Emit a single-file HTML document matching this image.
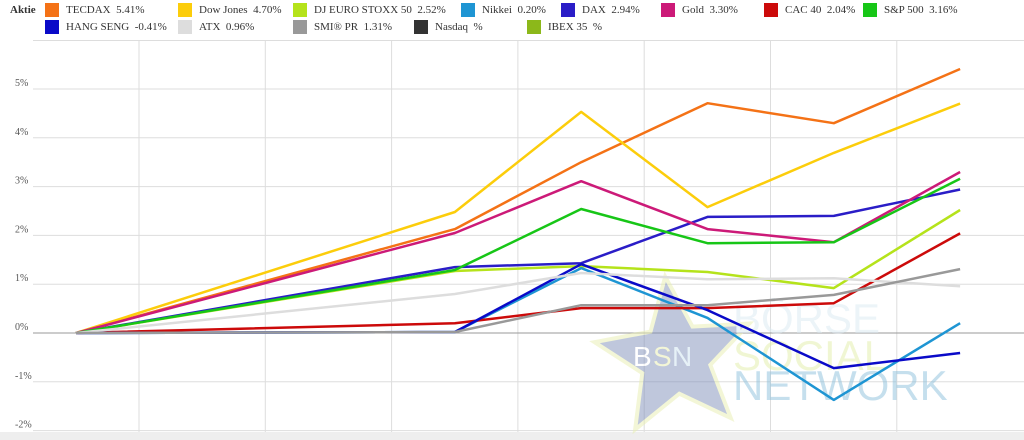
<!DOCTYPE html>
<html><head><meta charset="utf-8"><style>
body{margin:0;background:#fff;font-family:"Liberation Serif",serif;}
#wrap{position:relative;width:1024px;height:440px;overflow:hidden;}
.leg{position:absolute;font-size:11px;color:#333;display:flex;align-items:center;}
.sw{width:14px;height:14px;display:inline-block;margin-right:7px;}
</style></head><body>
<div id="wrap">
<div class="leg" style="left:10px;top:4px;font-weight:bold">Aktie</div>
<div id="legend"></div>
<svg id="chart" width="1024" height="440" style="position:absolute;left:0;top:0"></svg>
</div>
<script>
const names=["TECDAX","Dow Jones","DJ EURO STOXX 50","Nikkei","DAX","Gold","CAC 40","S&P 500","HANG SENG","ATX","SMI® PR","Nasdaq","IBEX 35"];
const legendVals=["5.41","4.70","2.52","0.20","2.94","3.30","2.04","3.16","-0.41","0.96","1.31","",""];
const colors=["#f47216","#fccd0b","#b5e31b","#1e95d3","#2a1dc7","#cc1a78","#cc0a0a","#17c617","#0a0ac8","#dddddd","#999999","#333333","#8cb81a"];
const xIdx=[0,3,4,5,6,7];
const sTECDAX=[0,2.13,3.5,4.71,4.30,5.41];
const sDow=[0,2.48,4.53,2.58,3.69,4.70];
const sStoxx=[0,1.27,1.37,1.25,0.92,2.52];
const sNikkei=[0,0.02,1.33,0.31,-1.37,0.20];
const sDAX=[0,1.35,1.43,2.38,2.40,2.94];
const sGold=[0,2.05,3.11,2.13,1.86,3.30];
const sCAC=[0,0.2,0.51,0.51,0.61,2.04];
const sSP=[0,1.29,2.54,1.84,1.86,3.16];
const sHang=[0,0.02,1.41,0.47,-0.72,-0.41];
const sATX=[0,0.8,1.23,1.1,1.12,0.96];
const sSMI=[0,0.02,0.57,0.57,0.78,1.31];
const series=[sTECDAX,sDow,sStoxx,sNikkei,sDAX,sGold,sCAC,sSP,sHang,sATX,sSMI,null,null];
const yTicks=[5,4,3,2,1,0,-1,-2];
const NS="http://www.w3.org/2000/svg";
const svg=document.getElementById('chart');
const X=i=>76+i*126.3;
const Y=v=>333-v*48.8;
function mk(t,a){const e=document.createElementNS(NS,t);for(const k in a)e.setAttribute(k,a[k]);svg.appendChild(e);return e;}
const leg=document.getElementById('legend');
const lx=[45,178,293,461,561,661,764,863,45,178,293,414,527];
names.forEach((n,i)=>{const d=document.createElement('div');d.className='leg';
d.style.left=lx[i]+'px';d.style.top=(i<8?3:20)+'px';
d.innerHTML='<span class="sw" style="background:'+colors[i]+'"></span>'+n+'&nbsp; '+legendVals[i]+'%';


leg.appendChild(d);});
let e=mk('rect',{x:0,y:432,width:1024,height:8,fill:'#eee'});


e=mk('line',{x1:33,x2:1024,y1:40.5,y2:40.5,stroke:'#ddd'});


for(let k=0;k<7;k++){e=mk('line',{x1:X(k)+63,x2:X(k)+63,y1:40,y2:432,stroke:'#ddd'});

}
yTicks.forEach(t=>{e=mk('line',{x1:33,x2:1024,y1:Y(t),y2:Y(t),stroke:t===0?'#999':'#ddd'});


e=mk('text',{x:15,y:Y(t)-3,'font-size':10,fill:'#555','font-family':'Liberation Serif, serif'});e.textContent=t+'%';

});
const g=mk('g',{opacity:0.5});


let pts=[];for(let k=0;k<10;k++){const r=k%2?36:82,a=-Math.PI/2+k*Math.PI/5-0.12;pts.push((675+r*Math.cos(a)).toFixed(1)+','+(358+r*Math.sin(a)).toFixed(1));}
let st=document.createElementNS(NS,'polygon');st.setAttribute('points',pts.join(' '));st.setAttribute('fill','#8090bb');st.setAttribute('stroke','#e8efb0');st.setAttribute('stroke-width','4');g.appendChild(st);
[["B",633,366,28,"#fff"],["S",653,366,28,"#e8efb0"],["N",672,366,28,"#cfe4f0"],["BÖRSE",733,333,42,"#dbeaf3"],["SOCIAL",733,370,42,"#e2efa8"],["NETWORK",733,400,42,"#8cc0dc"]].forEach(w=>{const t=document.createElementNS(NS,'text');t.setAttribute('x',w[1]);t.setAttribute('y',w[2]);t.setAttribute('font-size',w[3]);t.setAttribute('fill',w[4]);t.setAttribute('font-family','Liberation Sans, sans-serif');t.textContent=w[0];g.appendChild(t);});
svg.appendChild(g);
series.forEach((s,i)=>{if(!s)return;
const d=s.map((v,j)=>(j?'L':'M')+X(xIdx[j]).toFixed(1)+' '+Y(v).toFixed(1)).join(' ');
const p=mk('path',{d:d,fill:'none',stroke:colors[i],'stroke-width':2.5,'stroke-linejoin':'round'});

});
</script>
</body></html>
